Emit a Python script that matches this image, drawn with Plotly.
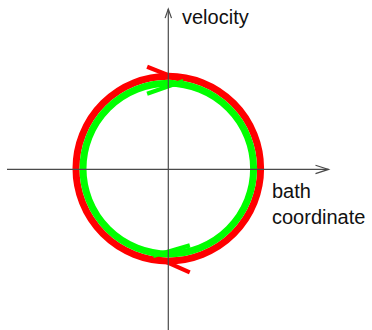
import math
import plotly.graph_objects as go

# Phase-space orbits (radius in plot units) and their colours
orbit_names = ["outer", "inner"]
orbit_radius = [92.3, 85.3]
orbit_color = ["#ff0000", "#00ff00"]
orbit_width = [7.0, 7.0]

# Direction harpoons: orbit index, tip angle (deg), tip radius, barb direction (deg)
harpoon_orbit = [0, 1, 0, 1]
harpoon_tip_deg = [80.2, 80.2, 260.2, 260.2]
harpoon_tip_r = [88.8, 88.8, 88.8, 88.8]
harpoon_barb_deg = [158.5, 199.3, 336.1, 16.3]
harpoon_len = [39.0, 38.5, 40.0, 38.2]

# Axis labels
axis_labels = ["velocity", "bath<br>coordinate"]

W, H = 372, 330
ox, oy = 168.3, 168.6          # pixel position of the origin
x_rng = [-ox, W - ox]
y_rng = [-(H - oy), oy]

fig = go.Figure()

shapes = []
# orbits, underneath everything else
for r, c, w in zip(orbit_radius, orbit_color, orbit_width):
    shapes.append(dict(type="circle", xref="x", yref="y", layer="below",
                       x0=-r, y0=-r, x1=r, y1=r,
                       line=dict(color=c, width=w)))

# axes with open chevron heads, drawn over the orbits
axis_col = "#4a4a4a"
h_end, v_end = 160.2, 159.5
axis_line = dict(color=axis_col, width=1.2)
shapes += [
    dict(type="line", x0=-161.3, y0=-0.8, x1=h_end, y1=-0.8, line=axis_line),
    dict(type="line", x0=0, y0=-175, x1=0, y1=v_end, line=axis_line),
    dict(type="path", path=f"M{h_end-13},{3.4} L{h_end},-0.8 L{h_end-13},{-5.0}",
         line=axis_line),
    dict(type="path", path=f"M{-3.2},{v_end-9} L0,{v_end} L{3.2},{v_end-9}",
         line=axis_line),
]
fig.update_layout(shapes=shapes)

# harpoon barbs showing the sense of rotation
for oi, tip, tr, barb, ln in zip(harpoon_orbit, harpoon_tip_deg, harpoon_tip_r,
                                 harpoon_barb_deg, harpoon_len):
    tx, ty = tr * math.cos(math.radians(tip)), tr * math.sin(math.radians(tip))
    bx = tx + ln * math.cos(math.radians(barb))
    by = ty + ln * math.sin(math.radians(barb))
    fig.add_trace(go.Scatter(x=[bx, tx], y=[by, ty], mode="lines",
                             line=dict(color=orbit_color[oi], width=4.2),
                             hoverinfo="skip", showlegend=False))

font = dict(family="Liberation Sans, Arial, sans-serif", size=20, color="#111111")
fig.add_annotation(x=179.5 - ox, y=oy - 17, text=axis_labels[0], showarrow=False,
                   xanchor="left", yanchor="middle", font=font)
fig.add_annotation(x=269.5 - ox, y=oy - 203.5, text=axis_labels[1], showarrow=False,
                   xanchor="left", yanchor="middle", align="left", font=font)

fig.update_xaxes(range=x_rng, visible=False, fixedrange=True)
fig.update_yaxes(range=y_rng, visible=False, fixedrange=True)
fig.update_layout(width=W, height=H, margin=dict(l=0, r=0, t=0, b=0),
                  paper_bgcolor="white", plot_bgcolor="white", showlegend=False)

fig.write_html("out.html", config=dict(displayModeBar=False))
